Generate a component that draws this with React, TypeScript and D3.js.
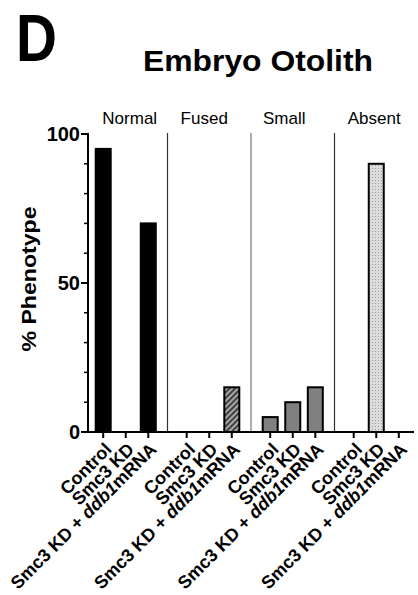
import React from "react";
import * as d3 from "d3";

const groups = ["Normal", "Fused", "Small", "Absent"];
const conditions = ["Control", "Smc3 KD", "Smc3 KD + ddb1mRNA"];
const normalValues = [95, 0, 70];
const fusedValues = [0, 0, 15];
const smallValues = [5, 10, 15];
const absentValues = [0, 90, 0];
const yTicksMajor = [0, 50, 100];
const yTicksMinor = [10, 20, 30, 40, 60, 70, 80, 90];

const seriesValues = [normalValues, fusedValues, smallValues, absentValues];
const fills = ["#000000", "url(#hatch)", "#808080", "url(#dots)"];
const groupLabelOffsets = [4, -5, -8.5, -2];
const sepColors = ["#333", "#777", "#333"];

const FONT = "'Liberation Sans', Arial, Helvetica, sans-serif";

export default function App() {
  const W = 418, H = 595;
  const x0 = 88, x1 = 414;
  const yBase = 432, yTop = 134;

  const y = d3.scaleLinear().domain([0, 100]).range([yBase, yTop]);
  const gx = d3.scaleBand<string>().domain(groups).range([x0, x1]).paddingInner(0.19).paddingOuter(0.047);
  const bx = d3.scaleBand<string>().domain(conditions).range([0, gx.bandwidth()]);
  const barW = 15;

  const step = gx.step();
  const gap = step - gx.bandwidth();

  const renderLabel = (c: string) => {
    if (c === "Smc3 KD + ddb1mRNA") {
      return (
        <>
          <tspan>Smc3 KD + </tspan>
          <tspan fontStyle="italic">ddb1</tspan>
          <tspan>mRNA</tspan>
        </>
      );
    }
    return c;
  };

  return (
    <svg width={W} height={H} style={{ position: "absolute", left: 0, top: 0, background: "#fff" }} fontFamily={FONT}>
      <defs>
        <pattern id="hatch" patternUnits="userSpaceOnUse" width="4" height="4" patternTransform="rotate(45)">
          <rect width="4" height="4" fill="#a8a8a8" />
          <rect width="2" height="4" fill="#404040" />
        </pattern>
        <pattern id="dots" patternUnits="userSpaceOnUse" width="3" height="3">
          <rect width="3" height="3" fill="#dcdcdc" />
          <rect width="1" height="1" fill="#a0a0a0" />
        </pattern>
      </defs>

      <text x={16} y={61} fontSize={66} fontWeight="bold" transform="translate(16,0) scale(0.86,1) translate(-16,0)">D</text>
      <text x={258} y={71} fontSize={30} fontWeight="bold" textAnchor="middle" textLength={230} lengthAdjust="spacingAndGlyphs">Embryo Otolith</text>

      {groups.map((g, i) => (
        <text key={g} x={(gx(g) as number) + gx.bandwidth() / 2 + groupLabelOffsets[i]} y={124} fontSize={17} textAnchor="middle">{g}</text>
      ))}

      {groups.slice(0, -1).map((g, i) => {
        const sx = (gx(g) as number) + gx.bandwidth() + gap / 2;
        return <line key={g} x1={sx} x2={sx} y1={y(100) - 1} y2={yBase} stroke={sepColors[i]} strokeWidth={1.2} />;
      })}

      {groups.map((g, gi) =>
        conditions.map((c, ci) => {
          const v = seriesValues[gi][ci];
          if (v <= 0) return null;
          const cx = (gx(g) as number) + (bx(c) as number) + bx.bandwidth() / 2;
          return (
            <rect key={g + c} x={cx - barW / 2} y={y(v)} width={barW} height={yBase - y(v)}
              fill={fills[gi]} stroke="#000" strokeWidth={2} />
          );
        })
      )}

      {/* y axis */}
      <line x1={x0} x2={x0} y1={y(100) - 1} y2={yBase + 1} stroke="#000" strokeWidth={2} />
      {yTicksMajor.map((t) => (
        <g key={t}>
          <line x1={x0 - 7} x2={x0} y1={y(t)} y2={y(t)} stroke="#000" strokeWidth={2} />
          <text x={x0 - 8} y={y(t)} dy="0.36em" fontSize={20} fontWeight="bold" textAnchor="end">{t}</text>
        </g>
      ))}
      {yTicksMinor.map((t) => (
        <line key={t} x1={x0 - 4} x2={x0} y1={y(t)} y2={y(t)} stroke="#000" strokeWidth={1.5} />
      ))}
      <text transform={`translate(36,${(yTop + yBase) / 2 - 4}) rotate(-90)`} fontSize={21} fontWeight="bold" textAnchor="middle" textLength={145} lengthAdjust="spacingAndGlyphs">% Phenotype</text>

      {/* x axis */}
      <line x1={x0 - 1} x2={x1} y1={yBase} y2={yBase} stroke="#000" strokeWidth={2} />
      {groups.map((g) =>
        conditions.map((c) => {
          const cx = (gx(g) as number) + (bx(c) as number) + bx.bandwidth() / 2;
          return (
            <g key={g + c}>
              <line x1={cx} x2={cx} y1={yBase} y2={yBase + 6} stroke="#000" strokeWidth={2} />
              <text transform={`translate(${cx + 5},${yBase + 14}) rotate(-45)`} dy="0.35em" fontSize={18} fontWeight="bold" textAnchor="end">
                {renderLabel(c)}
              </text>
            </g>
          );
        })
      )}
    </svg>
  );
}
